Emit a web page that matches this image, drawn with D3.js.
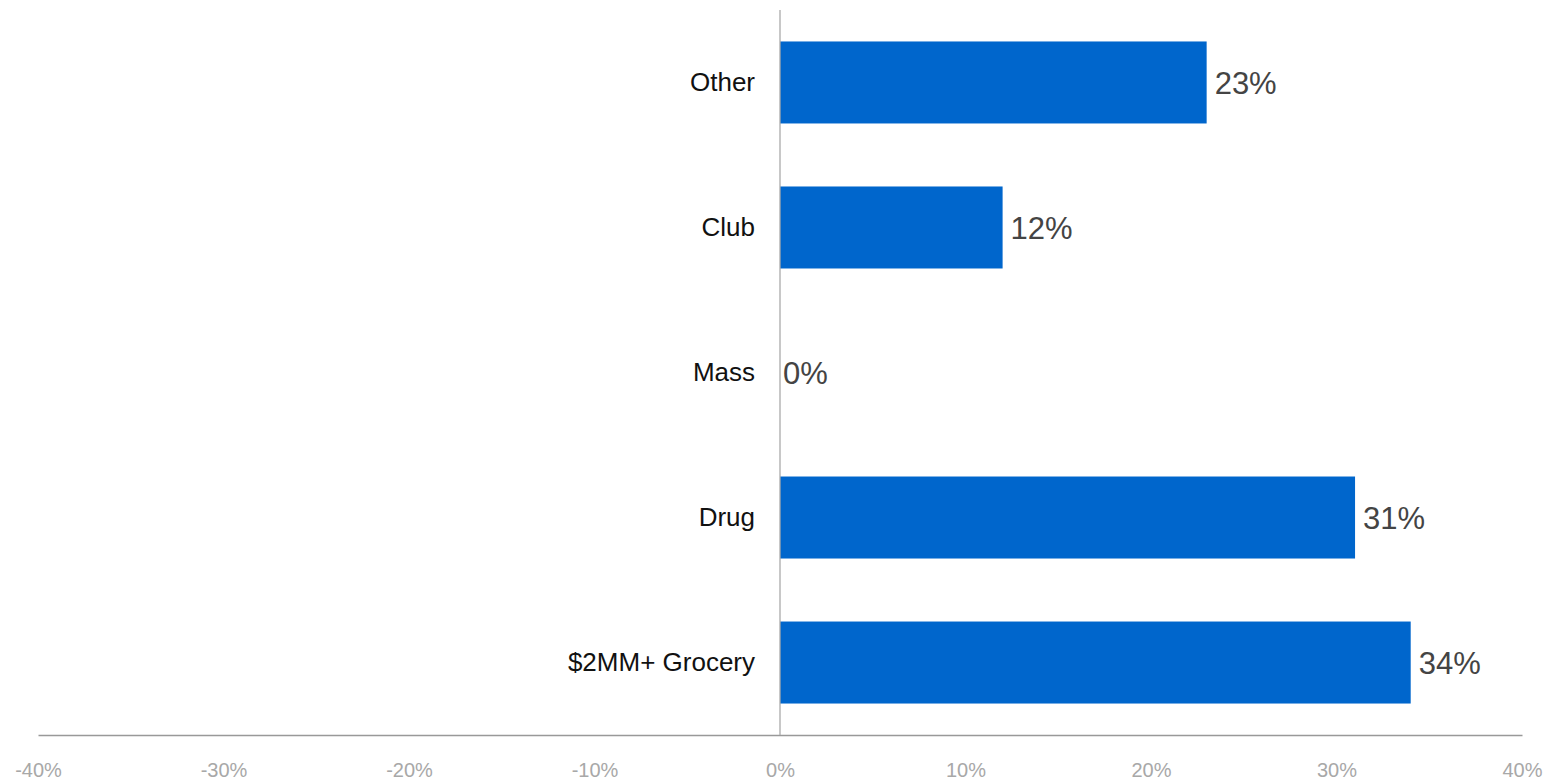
<!DOCTYPE html>
<html>
<head>
<meta charset="utf-8">
<script src="https://cdn.jsdelivr.net/npm/d3@7"></script>
<style>
  html, body { margin: 0; padding: 0; background: #fff; }
  svg { display: block; font-family: "Liberation Sans", Arial, sans-serif; }
</style>
</head>
<body>
<svg id="chart" width="1551" height="781"></svg>
<script>
// Share by channel, top to bottom
const categories = ["Other", "Club", "Mass", "Drug", "$2MM+ Grocery"];
const values = [0.23, 0.12, 0.00, 0.31, 0.34];
const tickValues = [-0.4, -0.3, -0.2, -0.1, 0, 0.1, 0.2, 0.3, 0.4];

const svg = d3.select("#chart");
const plotLeft = 38, plotRight = 1522, plotTop = 10, plotBottom = 735;

const x = d3.scaleLinear().domain([-0.4, 0.4]).range([plotLeft, plotRight]);
const y = d3.scaleBand().domain(categories).range([plotTop, plotBottom])
  .paddingInner(0.4345).paddingOuter(0.217);

// percent format with a plain hyphen for negatives
const fmt = v => `${Math.round(v * 100)}%`;

// bars
svg.append("g").selectAll("rect").data(categories).join("rect")
  .attr("x", (d, i) => Math.min(x(0), x(values[i])))
  .attr("y", d => y(d))
  .attr("width", (d, i) => Math.abs(x(values[i]) - x(0)))
  .attr("height", y.bandwidth())
  .attr("fill", "#0066CC");

// x axis
const xAxis = svg.append("g").attr("transform", `translate(0,${plotBottom})`)
  .call(d3.axisBottom(x).tickValues(tickValues).tickFormat(fmt).tickSize(0).tickPadding(28));
xAxis.select(".domain").attr("stroke", "#999").attr("stroke-width", 1.3);
xAxis.selectAll("text").attr("font-size", 20).attr("fill", "#a8a8a8")
  .attr("font-family", "'Liberation Sans', Arial, sans-serif");

// vertical zero line
svg.append("line")
  .attr("x1", x(0)).attr("x2", x(0))
  .attr("y1", plotTop).attr("y2", plotBottom)
  .attr("stroke", "#aaa").attr("stroke-width", 1.3);

// category labels
svg.append("g").selectAll("text").data(categories).join("text")
  .attr("x", x(0) - 25)
  .attr("y", d => y(d) + y.bandwidth() / 2 - 1)
  .attr("dy", "0.35em")
  .attr("text-anchor", "end")
  .attr("font-size", 26)
  .attr("fill", "#111")
  .text(d => d);

// value labels
svg.append("g").selectAll("text").data(categories).join("text")
  .attr("x", (d, i) => x(values[i]) + (values[i] === 0 ? 3 : 8))
  .attr("y", d => y(d) + y.bandwidth() / 2 + 1)
  .attr("dy", "0.35em")
  .attr("font-size", 31)
  .attr("fill", "#444")
  .text((d, i) => fmt(values[i]));
</script>
</body>
</html>
